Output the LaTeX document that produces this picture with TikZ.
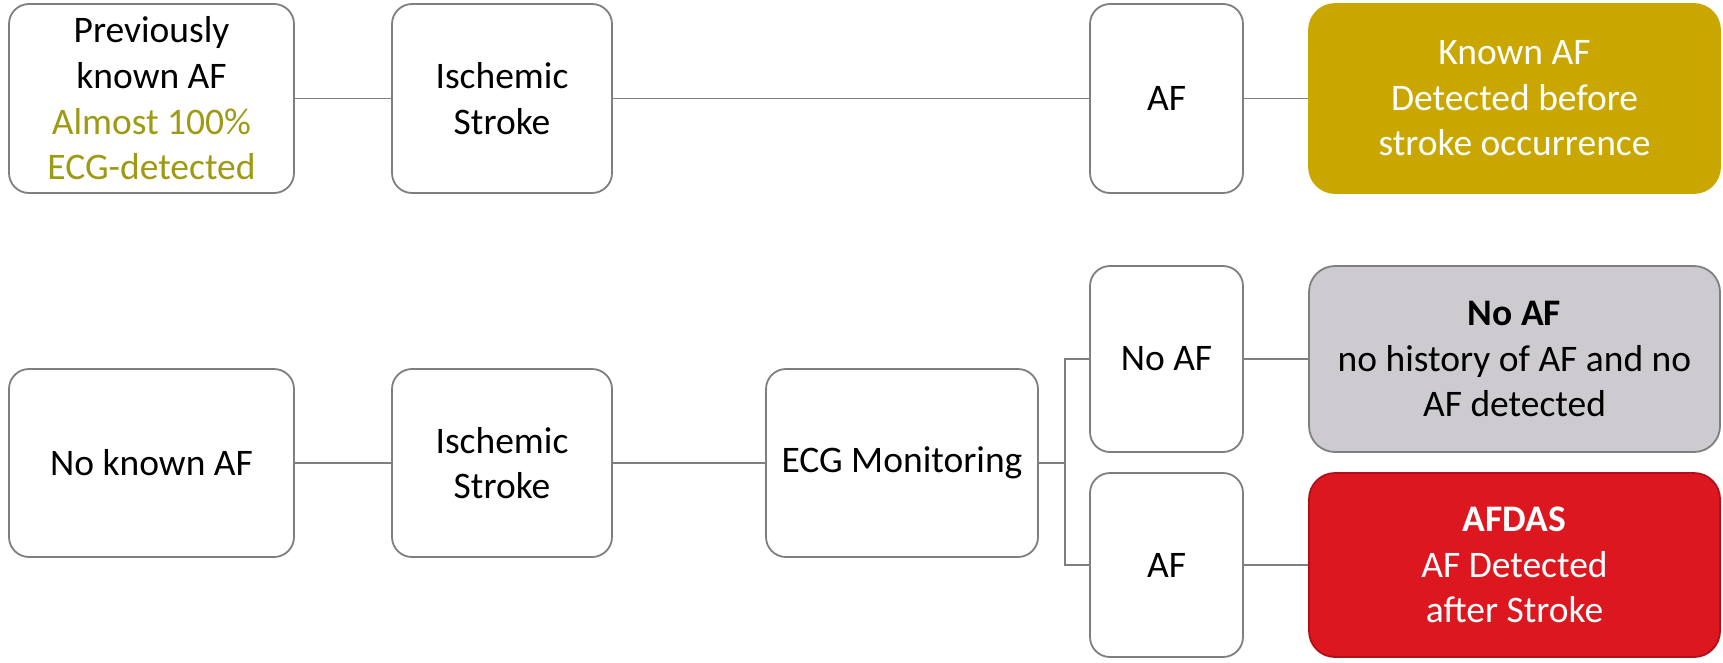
\documentclass[tikz,border=0pt]{standalone}
\usepackage{fontspec}
\setmainfont{Carlito}
\definecolor{edgegray}{HTML}{7F7F7F}
\definecolor{gold}{HTML}{C9A700}
\definecolor{olive}{HTML}{9E9A14}
\definecolor{lightgray}{HTML}{CDCBD0}
\definecolor{afred}{HTML}{DC1720}
\definecolor{darkred}{HTML}{B01018}
\tikzset{
  box/.style={draw=edgegray, line width=1.8pt, rounded corners=20pt, align=center, inner sep=0pt, fill=white,
    font=\fontsize{37.5}{45.6}\selectfont},
  result/.style={box, rounded corners=26pt, minimum width=411pt},
  conn/.style={draw=edgegray, line width=1.8pt}
}
\begin{document}
\begin{tikzpicture}[x=1pt,y=-1pt]
\useasboundingbox (0,0) rectangle (1723,662);
% top row
\node[box, minimum width=285pt, minimum height=189pt] (pk) at (151.5,98.5) {Previously\\known AF\\\textcolor{olive}{Almost 100\%}\\\textcolor{olive}{ECG-detected}};
\node[box, minimum width=220pt, minimum height=189pt] (is1) at (502,98.5) {Ischemic\\Stroke};
\node[box, minimum width=153pt, minimum height=189pt] (af1) at (1166.5,98.5) {AF};
\node[result, fill=gold, draw=gold, minimum height=189pt, text=white] (kaf) at (1514.5,98.5) {Known AF\\Detected before\\stroke occurrence};
% bottom row
\node[box, minimum width=285pt, minimum height=188pt] (nk) at (151.5,463) {No known AF};
\node[box, minimum width=220pt, minimum height=188pt] (is2) at (502,463) {Ischemic\\Stroke};
\node[box, minimum width=272pt, minimum height=188pt] (ecg) at (902,463) {ECG Monitoring};
\node[box, minimum width=153pt, minimum height=186pt] (naf) at (1166.5,359) {No AF};
\node[box, minimum width=153pt, minimum height=184pt] (af2) at (1166.5,565) {AF};
\node[result, fill=lightgray, minimum height=186pt] (nafr) at (1514.5,359) {\textbf{No AF}\\no history of AF and no\\AF detected};
\node[result, fill=afred, draw=darkred, minimum height=184pt, text=white] (afdas) at (1514.5,565) {\textbf{AFDAS}\\AF Detected\\after Stroke};
\coordinate (br) at (1065,463);
% connectors
\draw[conn] (pk) -- (is1);
\draw[conn] (is1) -- (af1);
\draw[conn] (af1) -- (kaf);
\draw[conn] (nk) -- (is2);
\draw[conn] (is2) -- (ecg);
\draw[conn] (ecg.east) -- (br);
\draw[conn] (naf.west) -| (br) |- (af2.west);
\draw[conn] (naf) -- (nafr);
\draw[conn] (af2) -- (afdas);
\end{tikzpicture}
\end{document}
